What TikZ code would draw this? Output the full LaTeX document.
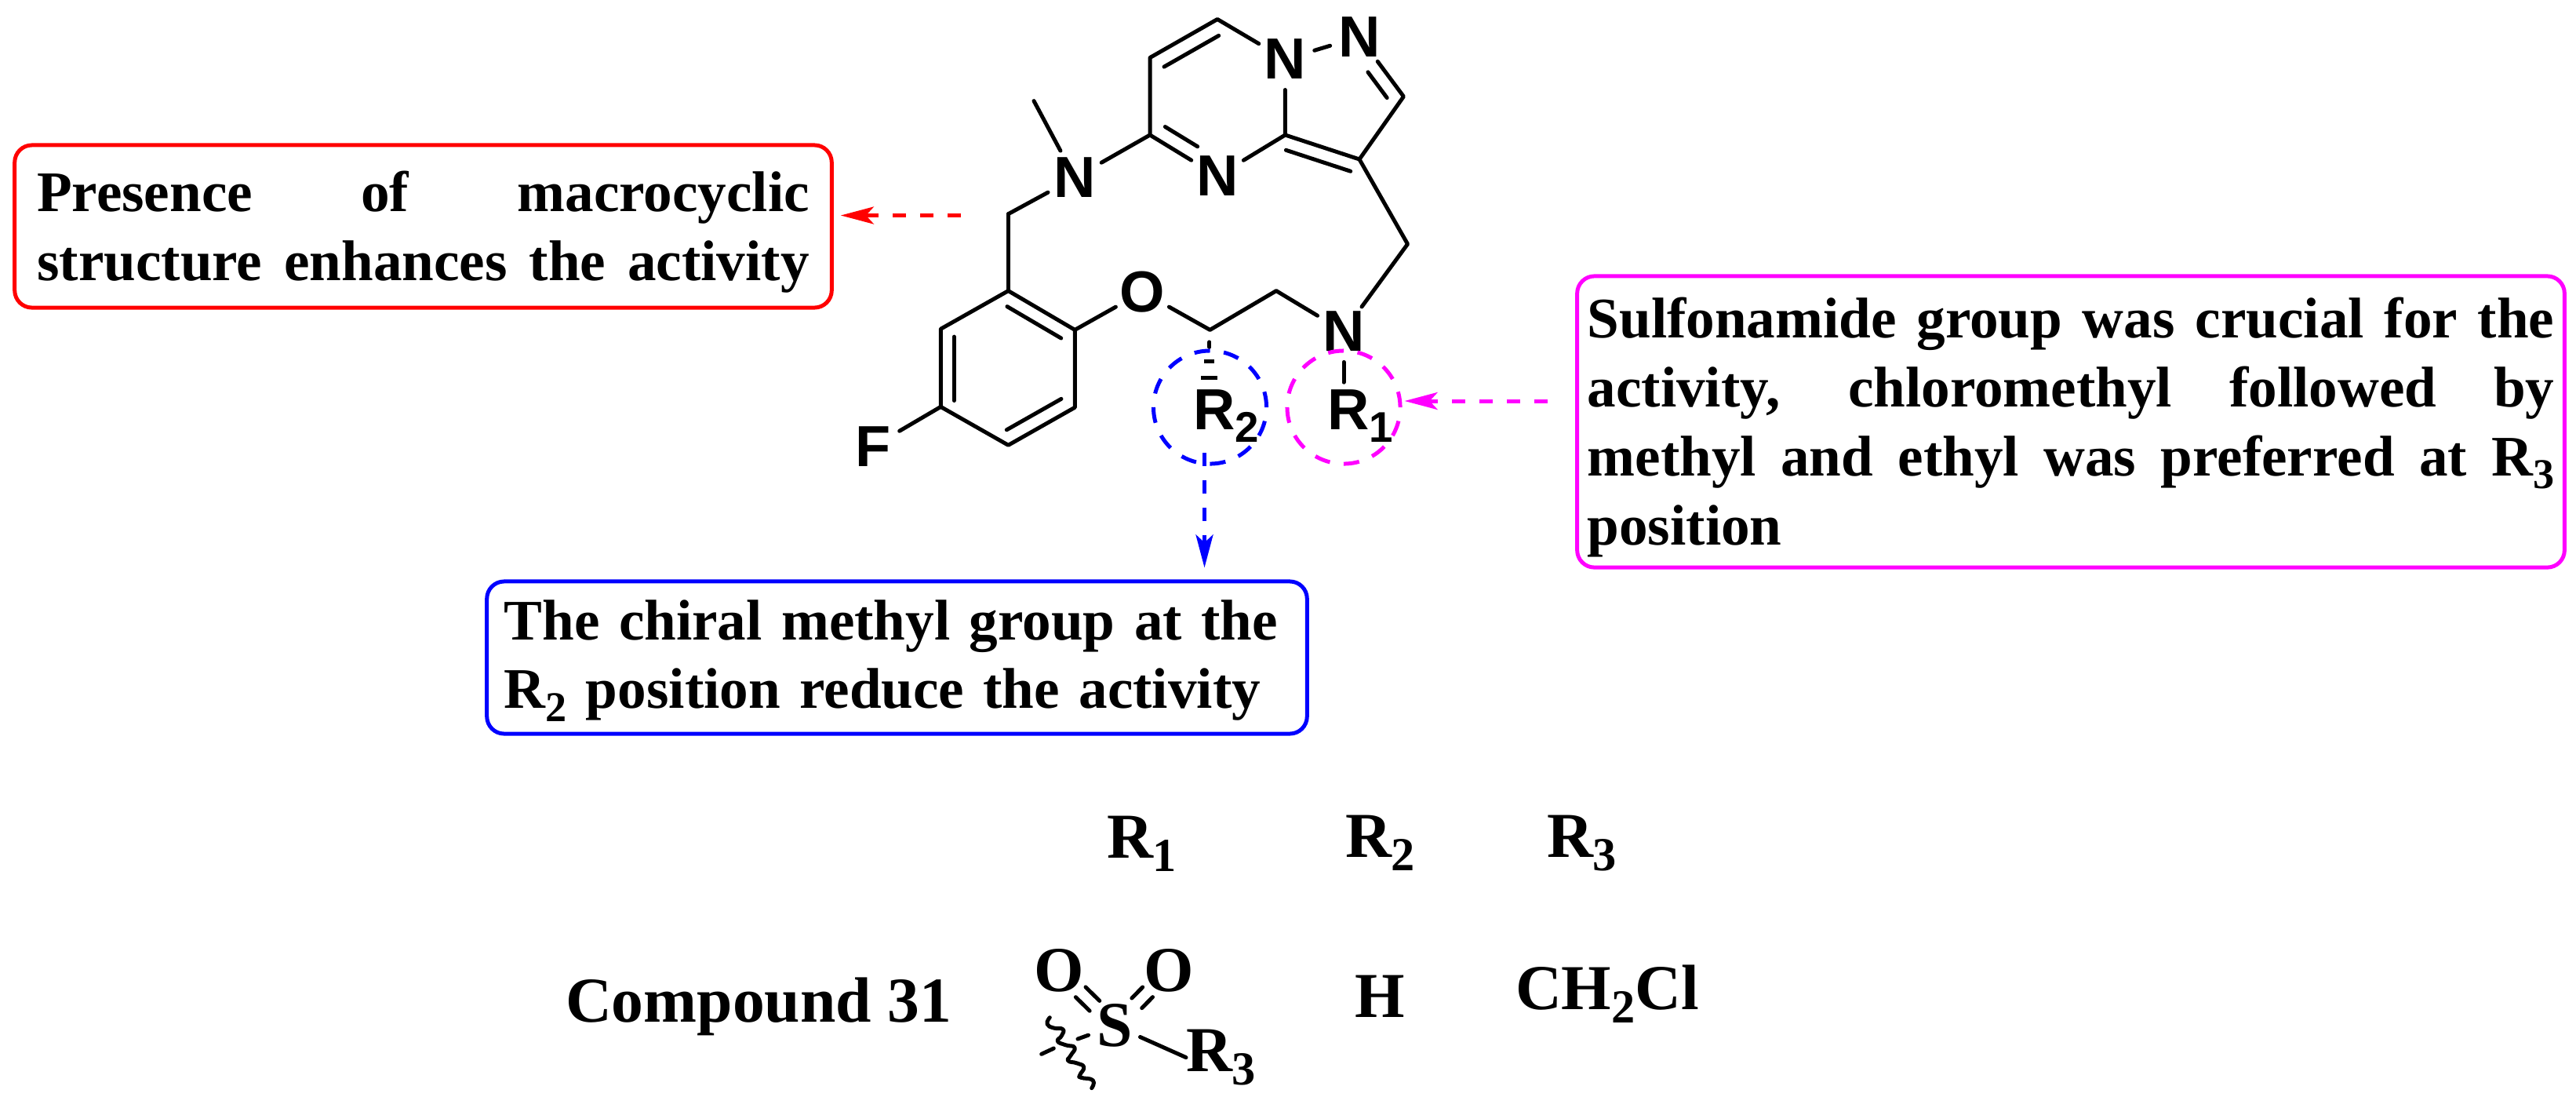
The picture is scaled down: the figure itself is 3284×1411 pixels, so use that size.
\documentclass[tikz,border=0pt]{standalone}
\usepackage{fontspec}
\setmainfont{Liberation Serif}
\newfontfamily\atomfont{Liberation Sans}
\usetikzlibrary{calc}
\usetikzlibrary{arrows.meta}
\definecolor{notepink}{RGB}{255,0,255}
\newcommand{\lowidx}[1]{\raisebox{-0.22em}{\scalebox{0.74}{#1}}}
% second stroke of a double bond: from, to, start, end, offset
\newcommand{\dblstroke}[5]{
	\draw[bond] ($(#1)!#3!(#2)!#5!90:(#2)$) -- ($(#1)!#4!(#2)!#5!90:(#2)$);
}
\tikzset{
	bond/.style={
		line width=0.05cm,
		line cap=round,
		line join=round
	},
	atom/.style={
		circle,
		inner sep=0pt,
		outer sep=0pt,
		minimum size=0.78cm,
		font=\atomfont\bfseries\fontsize{21}{25}\selectfont
	},
	satom/.style={
		circle,
		inner sep=0pt,
		outer sep=0pt,
		minimum size=0.68cm,
		font=\bfseries\fontsize{23.2}{27}\selectfont
	},
	rlabel/.style={
		anchor=base west,
		inner sep=0pt,
		outer sep=0pt,
		font=\atomfont\bfseries\fontsize{21}{25}\selectfont
	},
	entry/.style={
		anchor=base west,
		inner sep=0pt,
		outer sep=0pt,
		font=\bfseries\fontsize{23.2}{27}\selectfont
	},
	notebox/.style={
		draw,
		line width=0.05cm,
		rounded corners=0.22cm,
		inner ysep=0pt,
		font=\bfseries\fontsize{20.8}{25}\selectfont
	},
	ring/.style={
		draw,
		circle,
		inner sep=0pt,
		minimum size=1.44cm,
		line width=0.05cm,
		dash pattern=on 0.2cm off 0.177cm
	},
	notearrow/.style={
		line width=0.05cm,
		dash pattern=on 0.17cm off 0.18cm,
		-{Stealth[length=0.42cm,width=0.22cm,inset=0.1cm]}
	}
}

\begin{document}
\begin{tikzpicture}[
		x=0.01cm,
		y=-0.01cm,
	]

	% The canvas, in pixels of the reference
	\useasboundingbox (0,0) rectangle (3284,1411);

	% Draw the pyrazolopyrimidine
	\coordinate (ca) at (1552,24.5);
	\coordinate (cb) at (1466,73.5);
	\coordinate (cc) at (1466,172);
	\coordinate (cd) at (1638.4,172);
	\coordinate (ce) at (1733,203);
	\coordinate (cf) at (1789.4,123);
	\node[atom] (na) at (1638.4,75.5) {N};
	\node[atom] (nb) at (1733,47) {N};
	\node[atom] (nc) at (1552,224.5) {N};
	\draw[bond] (na) -- (ca) -- (cb) -- (cc) -- (nc) -- (cd) -- (na);
	\draw[bond] (na) -- (nb) -- (cf) -- (ce) -- (cd);
	\dblstroke{ca}{cb}{0.09}{0.9}{0.19cm}
	\dblstroke{cc}{nc}{0.11}{0.59}{0.19cm}
	\dblstroke{cd}{ce}{0.07}{0.94}{-0.18cm}
	\dblstroke{nb}{cf}{0.45}{0.88}{-0.18cm}

	% Draw the macrocycle chain
	\coordinate (mh) at (1794.5,311);
	\coordinate (me) at (1627,370.6);
	\coordinate (cs) at (1542.5,420.4);
	\coordinate (ma) at (1285.4,272.7);
	\coordinate (mt) at (1318,128.6);
	\node[atom] (nd) at (1713,422.4) {N};
	\node[atom] (ox) at (1456.4,372) {O};
	\node[atom] (nf) at (1370.3,226.5) {N};
	\draw[bond] (ce) -- (mh) -- (nd) -- (me) -- (cs) -- (ox);
	\draw[bond] (cc) -- (nf) -- (ma);
	\draw[bond] (nf) -- (mt);

	% Draw the fluorobenzene
	\coordinate (ar1) at (1285.4,370.6);
	\coordinate (ar2) at (1370.3,420.4);
	\coordinate (ar3) at (1370.3,519.2);
	\coordinate (ar4) at (1285.4,567.3);
	\coordinate (ar5) at (1199.3,518.4);
	\coordinate (ar6) at (1199.3,419.2);
	\node[atom] (fl) at (1113,569) {F};
	\draw[bond] (ar1) -- (ar2) -- (ar3) -- (ar4) -- (ar5) -- (ar6) -- cycle;
	\draw[bond] (ma) -- (ar1);
	\draw[bond] (ar2) -- (ox);
	\draw[bond] (ar5) -- (fl);
	\dblstroke{ar1}{ar2}{0.09}{0.9}{-0.18cm}
	\dblstroke{ar6}{ar5}{0.1}{0.92}{0.17cm}
	\dblstroke{ar4}{ar3}{0.08}{0.9}{0.18cm}

	% Draw R1 and R2
	\node[rlabel] (rone) at (1692,547) {R\lowidx{1}};
	\node[rlabel] (rtwo) at (1521,547) {R\lowidx{2}};
	\draw[bond] (nd) -- ($(nd |- rone.north)+(0,-9)$);
	\draw[bond] ($(cs)+(-0.7,15.5)$) -- ($(cs)+(-0.7,22)$);
	\foreach \hy/\hw in {40.3/6.5, 60.9/10.5}
		\draw[bond,line cap=butt] ($(cs)+(-0.7-\hw,\hy)$) -- ($(cs)+(-0.7+\hw,\hy)$);

	% Draw the dashed rings
	\node[ring,draw=blue] (bluering) at (1542.5,519) {};
	\node[ring,draw=notepink] (pinkring) at (1713,519) {};

	% Draw the notes
	\node[notebox,draw=red,text width=9.84cm,align=justify,minimum width=10.41cm,minimum height=2.07cm] (rednote) at (539.5,288.5)
		{\rule{0pt}{0.66cm}Presence of macrocyclic\linebreak \hbox to \linewidth{structure enhances the activity}};
	\node[notebox,draw=blue,text width=10.01cm,align=left,minimum width=10.45cm,minimum height=1.94cm] (bluenote) at (1143.5,838)
		{\rule{0pt}{0.58cm}The chiral methyl group at the\\R\lowidx{2} position reduce the activity};
	\node[notebox,draw=notepink,text width=12.32cm,align=justify,minimum width=12.58cm,minimum height=3.71cm] (pinknote) at (2640,537.5)
		{\rule{0pt}{0.66cm}Sulfonamide group was crucial for the\linebreak activity, chloromethyl followed by\linebreak methyl and ethyl was preferred at R\lowidx{3}\linebreak position};

	% Draw the arrows
	\coordinate (redtail) at (1225,274.5);
	\coordinate (bluetail) at (1535.5,577);
	\coordinate (pinktail) at (1972.7,511);
	\draw[notearrow,red,shorten >=0.09cm] (redtail) -- (redtail -| rednote.east);
	\draw[notearrow,blue,shorten >=0.15cm] (bluetail) -- (bluetail |- bluenote.north);
	\draw[notearrow,notepink,shorten >=0.03cm] (pinktail) -- (pinktail -| pinkring.east);

	% Draw the table
	\node[entry] (headone) at (1411,1093) {R\lowidx{1}};
	\node[entry] (headtwo) at (1715,1092) {R\lowidx{2}};
	\node[entry] (headthree) at (1972,1092) {R\lowidx{3}};
	\node[entry] (cpd) at (721,1302) {Compound 31};
	\node[entry] (hyd) at (1727,1296) {H};
	\node[entry] (chcl) at (1932,1286) {CH\lowidx{2}Cl};

	% Draw the sulfonyl group
	\node[satom] (sul) at (1421,1307) {S};
	\node[satom] (oa) at (1350,1237) {O};
	\node[satom] (ob) at (1490,1237) {O};
	\node[entry] (rthree) at (1512,1365) {R\lowidx{3}};
	\coordinate (wga) at (1374,1324);
	\coordinate (wgb) at (1343.3,1336);
	\coordinate (wgc) at (1327.7,1343.3);
	\dblstroke{oa}{sul}{0.39}{0.64}{0.09cm}
	\dblstroke{oa}{sul}{0.39}{0.64}{-0.09cm}
	\dblstroke{ob}{sul}{0.39}{0.59}{0.09cm}
	\dblstroke{ob}{sul}{0.39}{0.59}{-0.09cm}
	\draw[bond] (sul) -- (wga);
	\draw[bond] (wgb) -- (wgc);
	\draw[bond] (sul) -- (rthree.west);
	\draw[bond] plot[smooth,tension=0.9] coordinates {(1338.3,1296.7) (1335,1305) (1343.3,1310) (1355,1311.7) (1353.3,1320) (1348.3,1326.7) (1358.3,1331.7) (1370,1335) (1365,1345) (1361.7,1351.7) (1373.3,1355) (1381.7,1360) (1376.7,1370) (1378.3,1373.3) (1393.3,1376.7) (1391.7,1386.7)};

\end{tikzpicture}
\end{document}
